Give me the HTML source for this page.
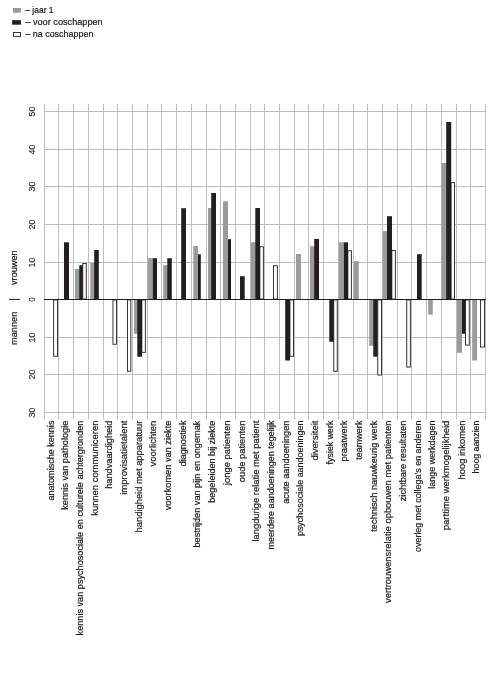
<!DOCTYPE html>
<html lang="nl"><head><meta charset="utf-8"><title>Grafiek</title>
<style>html,body{margin:0;padding:0;background:#fff}svg{display:block}</style></head>
<body>
<svg width="504" height="674" viewBox="0 0 504 674">
<rect width="504" height="674" fill="#fff"/>
<g stroke="#bdbdbd" stroke-width="1" fill="none">
<line x1="44.5" y1="104" x2="44.5" y2="419.3"/>
<line x1="58.5" y1="104" x2="58.5" y2="419.3"/>
<line x1="73.5" y1="104" x2="73.5" y2="419.3"/>
<line x1="88.5" y1="104" x2="88.5" y2="419.3"/>
<line x1="103.5" y1="104" x2="103.5" y2="419.3"/>
<line x1="117.5" y1="104" x2="117.5" y2="419.3"/>
<line x1="132.5" y1="104" x2="132.5" y2="419.3"/>
<line x1="147.5" y1="104" x2="147.5" y2="419.3"/>
<line x1="161.5" y1="104" x2="161.5" y2="419.3"/>
<line x1="176.5" y1="104" x2="176.5" y2="419.3"/>
<line x1="191.5" y1="104" x2="191.5" y2="419.3"/>
<line x1="206.5" y1="104" x2="206.5" y2="419.3"/>
<line x1="220.5" y1="104" x2="220.5" y2="419.3"/>
<line x1="235.5" y1="104" x2="235.5" y2="419.3"/>
<line x1="250.5" y1="104" x2="250.5" y2="419.3"/>
<line x1="264.5" y1="104" x2="264.5" y2="419.3"/>
<line x1="279.5" y1="104" x2="279.5" y2="419.3"/>
<line x1="294.5" y1="104" x2="294.5" y2="419.3"/>
<line x1="308.5" y1="104" x2="308.5" y2="419.3"/>
<line x1="323.5" y1="104" x2="323.5" y2="419.3"/>
<line x1="338.5" y1="104" x2="338.5" y2="419.3"/>
<line x1="353.5" y1="104" x2="353.5" y2="419.3"/>
<line x1="367.5" y1="104" x2="367.5" y2="419.3"/>
<line x1="382.5" y1="104" x2="382.5" y2="419.3"/>
<line x1="397.5" y1="104" x2="397.5" y2="419.3"/>
<line x1="411.5" y1="104" x2="411.5" y2="419.3"/>
<line x1="426.5" y1="104" x2="426.5" y2="419.3"/>
<line x1="441.5" y1="104" x2="441.5" y2="419.3"/>
<line x1="456.5" y1="104" x2="456.5" y2="419.3"/>
<line x1="470.5" y1="104" x2="470.5" y2="419.3"/>
<line x1="485.5" y1="104" x2="485.5" y2="419.3"/>
<line x1="44" y1="111.5" x2="486" y2="111.5"/>
<line x1="44" y1="149.5" x2="486" y2="149.5"/>
<line x1="44" y1="186.5" x2="486" y2="186.5"/>
<line x1="44" y1="224.5" x2="486" y2="224.5"/>
<line x1="44" y1="262.5" x2="486" y2="262.5"/>
<line x1="44" y1="337.5" x2="486" y2="337.5"/>
<line x1="44" y1="374.5" x2="486" y2="374.5"/>
<line x1="44" y1="412.5" x2="486" y2="412.5"/>
</g>
<rect x="53.65" y="299.95" width="3.80" height="56.30" fill="#fff" stroke="#231f20" stroke-width="0.9"/>
<rect x="64.00" y="242.30" width="5.00" height="57.20" fill="#231f20"/>
<rect x="75.00" y="269.00" width="5.00" height="30.50" fill="#9b9b9b"/>
<rect x="79.30" y="265.20" width="4.70" height="34.30" fill="#231f20"/>
<rect x="82.75" y="263.45" width="3.50" height="35.60" fill="#fff" stroke="#231f20" stroke-width="0.9"/>
<rect x="90.30" y="263.00" width="4.90" height="36.50" fill="#9b9b9b"/>
<rect x="94.20" y="250.00" width="4.60" height="49.50" fill="#231f20"/>
<rect x="112.95" y="299.95" width="3.60" height="44.30" fill="#fff" stroke="#231f20" stroke-width="0.9"/>
<rect x="127.45" y="299.95" width="3.40" height="71.30" fill="#fff" stroke="#231f20" stroke-width="0.9"/>
<rect x="134.00" y="299.50" width="5.00" height="34.30" fill="#9b9b9b"/>
<rect x="141.85" y="299.95" width="3.50" height="52.40" fill="#fff" stroke="#231f20" stroke-width="0.9"/>
<rect x="137.30" y="299.50" width="4.70" height="57.20" fill="#231f20"/>
<rect x="152.30" y="258.20" width="4.70" height="41.30" fill="#231f20"/>
<rect x="147.80" y="258.20" width="5.00" height="41.30" fill="#9b9b9b"/>
<rect x="163.20" y="265.20" width="4.80" height="34.30" fill="#9b9b9b"/>
<rect x="167.30" y="258.20" width="4.50" height="41.30" fill="#231f20"/>
<rect x="181.20" y="208.20" width="4.80" height="91.30" fill="#231f20"/>
<rect x="196.00" y="254.30" width="4.80" height="45.20" fill="#231f20"/>
<rect x="193.30" y="246.00" width="4.70" height="53.50" fill="#9b9b9b"/>
<rect x="208.00" y="208.00" width="5.00" height="91.50" fill="#9b9b9b"/>
<rect x="211.20" y="193.00" width="4.80" height="106.50" fill="#231f20"/>
<rect x="226.20" y="239.20" width="4.80" height="60.30" fill="#231f20"/>
<rect x="223.00" y="201.20" width="5.00" height="98.30" fill="#9b9b9b"/>
<rect x="240.00" y="276.20" width="4.70" height="23.30" fill="#231f20"/>
<rect x="259.85" y="246.75" width="3.50" height="52.30" fill="#fff" stroke="#231f20" stroke-width="0.9"/>
<rect x="250.80" y="242.20" width="5.00" height="57.30" fill="#9b9b9b"/>
<rect x="255.30" y="208.00" width="4.70" height="91.50" fill="#231f20"/>
<rect x="273.45" y="265.75" width="3.90" height="33.30" fill="#fff" stroke="#231f20" stroke-width="0.9"/>
<rect x="289.95" y="299.95" width="3.60" height="56.30" fill="#fff" stroke="#231f20" stroke-width="0.9"/>
<rect x="285.20" y="299.50" width="4.80" height="61.00" fill="#231f20"/>
<rect x="296.00" y="254.00" width="5.00" height="45.50" fill="#9b9b9b"/>
<rect x="310.00" y="246.20" width="5.00" height="53.30" fill="#9b9b9b"/>
<rect x="314.20" y="239.00" width="4.80" height="60.50" fill="#231f20"/>
<rect x="329.30" y="299.50" width="4.70" height="42.20" fill="#231f20"/>
<rect x="333.75" y="299.95" width="3.50" height="71.30" fill="#fff" stroke="#231f20" stroke-width="0.9"/>
<rect x="347.85" y="250.75" width="3.50" height="48.30" fill="#fff" stroke="#231f20" stroke-width="0.9"/>
<rect x="343.30" y="242.30" width="4.70" height="57.20" fill="#231f20"/>
<rect x="338.80" y="242.30" width="5.00" height="57.20" fill="#9b9b9b"/>
<rect x="353.80" y="261.20" width="5.00" height="38.30" fill="#9b9b9b"/>
<rect x="369.20" y="299.50" width="4.80" height="46.30" fill="#9b9b9b"/>
<rect x="373.30" y="299.50" width="4.40" height="57.20" fill="#231f20"/>
<rect x="377.75" y="299.95" width="3.80" height="75.10" fill="#fff" stroke="#231f20" stroke-width="0.9"/>
<rect x="391.85" y="250.45" width="3.50" height="48.60" fill="#fff" stroke="#231f20" stroke-width="0.9"/>
<rect x="382.80" y="231.20" width="5.00" height="68.30" fill="#9b9b9b"/>
<rect x="387.00" y="216.20" width="5.00" height="83.30" fill="#231f20"/>
<rect x="406.75" y="299.95" width="3.60" height="67.10" fill="#fff" stroke="#231f20" stroke-width="0.9"/>
<rect x="417.00" y="254.20" width="4.70" height="45.30" fill="#231f20"/>
<rect x="428.20" y="299.50" width="4.60" height="15.20" fill="#9b9b9b"/>
<rect x="451.05" y="182.65" width="3.50" height="116.40" fill="#fff" stroke="#231f20" stroke-width="0.9"/>
<rect x="441.50" y="163.00" width="5.50" height="136.50" fill="#9b9b9b"/>
<rect x="446.20" y="122.00" width="5.00" height="177.50" fill="#231f20"/>
<rect x="460.80" y="299.50" width="4.70" height="34.30" fill="#231f20"/>
<rect x="465.45" y="299.95" width="3.80" height="45.10" fill="#fff" stroke="#231f20" stroke-width="0.9"/>
<rect x="457.00" y="299.50" width="5.00" height="53.30" fill="#9b9b9b"/>
<rect x="480.45" y="299.95" width="4.10" height="47.10" fill="#fff" stroke="#231f20" stroke-width="0.9"/>
<rect x="472.20" y="299.50" width="4.80" height="61.00" fill="#9b9b9b"/>
<line x1="44" y1="299.5" x2="486" y2="299.5" stroke="#231f20" stroke-width="1"/>
<line x1="8.9" y1="299.4" x2="20" y2="299.4" stroke="#231f20" stroke-width="1"/>
<g font-family="'Liberation Sans', Arial, sans-serif" font-size="9.3" fill="#1c191a" stroke="#1c191a" stroke-width="0.2">
<text transform="translate(35.0 111.50) rotate(-90)" text-anchor="middle" font-size="9.7" stroke-width="0.1" textLength="9.8" lengthAdjust="spacingAndGlyphs">50</text>
<text transform="translate(35.0 149.50) rotate(-90)" text-anchor="middle" font-size="9.7" stroke-width="0.1" textLength="9.8" lengthAdjust="spacingAndGlyphs">40</text>
<text transform="translate(35.0 186.50) rotate(-90)" text-anchor="middle" font-size="9.7" stroke-width="0.1" textLength="9.8" lengthAdjust="spacingAndGlyphs">30</text>
<text transform="translate(35.0 224.50) rotate(-90)" text-anchor="middle" font-size="9.7" stroke-width="0.1" textLength="9.8" lengthAdjust="spacingAndGlyphs">20</text>
<text transform="translate(35.0 262.50) rotate(-90)" text-anchor="middle" font-size="9.7" stroke-width="0.1" textLength="9.8" lengthAdjust="spacingAndGlyphs">10</text>
<text transform="translate(35.0 299.50) rotate(-90)" text-anchor="middle" font-size="9.7" stroke-width="0.1" textLength="4.5" lengthAdjust="spacingAndGlyphs">0</text>
<text transform="translate(35.0 337.50) rotate(-90)" text-anchor="middle" font-size="9.7" stroke-width="0.1" textLength="9.8" lengthAdjust="spacingAndGlyphs">10</text>
<text transform="translate(35.0 374.50) rotate(-90)" text-anchor="middle" font-size="9.7" stroke-width="0.1" textLength="9.8" lengthAdjust="spacingAndGlyphs">20</text>
<text transform="translate(35.0 412.50) rotate(-90)" text-anchor="middle" font-size="9.7" stroke-width="0.1" textLength="9.8" lengthAdjust="spacingAndGlyphs">30</text>
<text transform="translate(17.0 285) rotate(-90)" textLength="34.6" lengthAdjust="spacingAndGlyphs">vrouwen</text>
<text transform="translate(17.0 344.9) rotate(-90)" textLength="33.2" lengthAdjust="spacingAndGlyphs">mannen</text>
<text transform="translate(54.00 500.5) rotate(-90)" textLength="79.9" lengthAdjust="spacingAndGlyphs">anatomische kennis</text>
<text transform="translate(68.19 509.8) rotate(-90)" textLength="89.2" lengthAdjust="spacingAndGlyphs">kennis van pathologie</text>
<text transform="translate(82.89 635.4) rotate(-90)" textLength="214.8" lengthAdjust="spacingAndGlyphs">kennis van psychosociale en culturele achtergronden</text>
<text transform="translate(98.18 515.8) rotate(-90)" textLength="95.2" lengthAdjust="spacingAndGlyphs">kunnen communiceren</text>
<text transform="translate(111.88 488.8) rotate(-90)" textLength="68.2" lengthAdjust="spacingAndGlyphs">handvaardigheid</text>
<text transform="translate(126.97 494.8) rotate(-90)" textLength="74.2" lengthAdjust="spacingAndGlyphs">improvisatietalent</text>
<text transform="translate(141.67 532.4) rotate(-90)" textLength="111.8" lengthAdjust="spacingAndGlyphs">handigheid met apparatuur</text>
<text transform="translate(156.37 466.4) rotate(-90)" textLength="45.8" lengthAdjust="spacingAndGlyphs">voorlichten</text>
<text transform="translate(171.06 510.3) rotate(-90)" textLength="89.7" lengthAdjust="spacingAndGlyphs">voorkomen van ziekte</text>
<text transform="translate(185.75 466.2) rotate(-90)" textLength="45.6" lengthAdjust="spacingAndGlyphs">diagnostiek</text>
<text transform="translate(200.45 547.5) rotate(-90)" textLength="126.9" lengthAdjust="spacingAndGlyphs">bestrijden van pijn en ongemak</text>
<text transform="translate(215.15 502.8) rotate(-90)" textLength="82.2" lengthAdjust="spacingAndGlyphs">begeleiden bij ziekte</text>
<text transform="translate(229.84 485.2) rotate(-90)" textLength="64.6" lengthAdjust="spacingAndGlyphs">jonge patienten</text>
<text transform="translate(244.53 482.2) rotate(-90)" textLength="61.6" lengthAdjust="spacingAndGlyphs">oude patienten</text>
<text transform="translate(259.23 541.6) rotate(-90)" textLength="121.0" lengthAdjust="spacingAndGlyphs">langdurige relatie met patient</text>
<text transform="translate(273.93 549.5) rotate(-90)" textLength="128.9" lengthAdjust="spacingAndGlyphs">meerdere aandoeningen tegelijk</text>
<text transform="translate(288.62 503.8) rotate(-90)" textLength="83.2" lengthAdjust="spacingAndGlyphs">acute aandoeningen</text>
<text transform="translate(303.31 536.1) rotate(-90)" textLength="115.5" lengthAdjust="spacingAndGlyphs">psychosociale aandoeningen</text>
<text transform="translate(318.01 460.6) rotate(-90)" textLength="40.0" lengthAdjust="spacingAndGlyphs">diversiteit</text>
<text transform="translate(332.70 464.4) rotate(-90)" textLength="43.8" lengthAdjust="spacingAndGlyphs">fysiek werk</text>
<text transform="translate(347.40 461.5) rotate(-90)" textLength="40.9" lengthAdjust="spacingAndGlyphs">praatwerk</text>
<text transform="translate(362.10 459.7) rotate(-90)" textLength="39.1" lengthAdjust="spacingAndGlyphs">teamwerk</text>
<text transform="translate(376.79 531.7) rotate(-90)" textLength="111.1" lengthAdjust="spacingAndGlyphs">technisch nauwkeurig werk</text>
<text transform="translate(391.49 603.0) rotate(-90)" textLength="182.4" lengthAdjust="spacingAndGlyphs">vertrouwensrelatie opbouwen met patienten</text>
<text transform="translate(406.18 501.3) rotate(-90)" textLength="80.7" lengthAdjust="spacingAndGlyphs">zichtbare resultaten</text>
<text transform="translate(420.88 552.0) rotate(-90)" textLength="131.4" lengthAdjust="spacingAndGlyphs">overleg met collega's en anderen</text>
<text transform="translate(434.67 488.7) rotate(-90)" textLength="68.1" lengthAdjust="spacingAndGlyphs">lange werkdagen</text>
<text transform="translate(449.37 530.2) rotate(-90)" textLength="109.6" lengthAdjust="spacingAndGlyphs">parttime werkmogelijkheid</text>
<text transform="translate(464.96 479.4) rotate(-90)" textLength="58.8" lengthAdjust="spacingAndGlyphs">hoog inkomen</text>
<text transform="translate(478.66 473.4) rotate(-90)" textLength="52.8" lengthAdjust="spacingAndGlyphs">hoog aanzien</text>
<rect x="13.0" y="8.0" width="7.9" height="4.8" fill="#9b9b9b" stroke="none"/>
<rect x="12.1" y="20.15" width="8.8" height="4.55" fill="#231f20" stroke="none"/>
<rect x="13.45" y="32.5" width="7.0" height="3.85" fill="#fff" stroke="#231f20" stroke-width="0.9"/>
<text x="25.3" y="12.9" textLength="28.3" lengthAdjust="spacingAndGlyphs">– jaar 1</text>
<text x="25.3" y="25" textLength="77.4" lengthAdjust="spacingAndGlyphs">– voor coschappen</text>
<text x="25.3" y="36.9" textLength="68.1" lengthAdjust="spacingAndGlyphs">– na coschappen</text>
</g></svg>
</body></html>
